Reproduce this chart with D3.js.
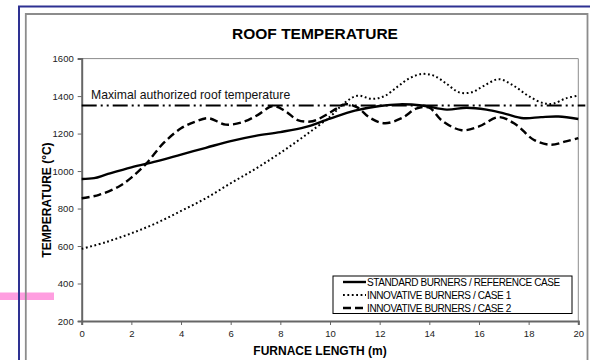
<!DOCTYPE html>
<html>
<head>
<meta charset="utf-8">
<script src="https://cdn.jsdelivr.net/npm/d3@7"></script>
<style>
  body { margin: 0; background: #fff; }
  svg { display: block; font-family: Arial, "Liberation Sans", sans-serif; }
  .tick text { fill: #222; font-size: 9.5px; }
  .legend text { font-size: 10px; letter-spacing: -0.4px; fill: #000; }
</style>
</head>
<body>
<div id="chart"></div>
<script>
// furnace length (m) and roof temperature (°C)
const standardPos  = [0, 0.5, 1, 2, 3, 4, 5, 6, 7, 8, 9, 10, 11, 12, 12.8, 13.7, 14.7, 15.5, 16.3, 17, 17.8, 18.5, 19.2, 20];
const standardTemp = [958, 962, 982, 1020, 1052, 1088, 1124, 1160, 1188, 1208, 1234, 1280, 1322, 1347, 1356, 1350, 1328, 1338, 1328, 1308, 1282, 1288, 1291, 1278];

const case1Pos  = [0, 1, 2, 3, 4, 5, 6, 7, 8, 9, 10, 10.6, 11.1, 11.7, 12.2, 12.7, 13.2, 13.7, 14.2, 14.7, 15.2, 15.7, 16.2, 16.8, 17.4, 18, 18.6, 19, 19.5, 20];
const case1Temp = [585, 622, 668, 722, 787, 855, 935, 1012, 1097, 1190, 1290, 1365, 1402, 1385, 1400, 1448, 1495, 1518, 1508, 1465, 1420, 1420, 1455, 1490, 1455, 1400, 1362, 1360, 1388, 1402];

const case2Pos  = [0, 0.7, 1.5, 2, 2.6, 3.3, 4, 4.6, 5.1, 5.8, 6.5, 7.1, 7.7, 8.2, 8.7, 9.3, 10, 10.6, 11.1, 11.6, 12.2, 12.9, 13.5, 14, 14.5, 15.3, 16, 16.8, 17.5, 18.2, 18.9, 19.5, 20];
const case2Temp = [855, 873, 918, 965, 1040, 1150, 1228, 1265, 1282, 1248, 1262, 1300, 1347, 1320, 1272, 1266, 1312, 1356, 1340, 1285, 1255, 1283, 1335, 1338, 1270, 1218, 1238, 1288, 1247, 1167, 1140, 1158, 1176];

const maxTemp = 1350;
const maxLabel = 'Maximal authorized roof temperature';

const seriesNames = ['STANDARD BURNERS / REFERENCE CASE', 'INNOVATIVE BURNERS / CASE 1', 'INNOVATIVE BURNERS / CASE 2'];
const xTicks = [0, 2, 4, 6, 8, 10, 12, 14, 16, 18, 20];
const yTicks = [200, 400, 600, 800, 1000, 1200, 1400, 1600];

const series = [
  { name: seriesNames[0], pts: standardPos.map((p, i) => [p, standardTemp[i]]), dash: null, w: 2.4 },
  { name: seriesNames[1], pts: case1Pos.map((p, i) => [p, case1Temp[i]]), dash: '1.8,2.6', w: 2 },
  { name: seriesNames[2], pts: case2Pos.map((p, i) => [p, case2Temp[i]]), dash: '8,4', w: 2.4 }
];

const W = 590, H = 360;
const svg = d3.select('#chart').append('svg').attr('width', W).attr('height', H);

// page decorations: pink marker, blue slide frame, grey chart frame
svg.append('rect').attr('x', 0).attr('y', 292.5).attr('width', 54).attr('height', 7.5).attr('fill', '#ff9ee0');
svg.append('path').attr('d', 'M19,362 V6.5 H592').attr('fill', 'none').attr('stroke', '#2e3192').attr('stroke-width', 2);
svg.append('path').attr('d', 'M25.8,362 V14 H587.5 V362').attr('fill', 'none').attr('stroke', '#8c8c8c').attr('stroke-width', 1.8);

const plotL = 81.7, plotR = 578.3, plotT = 58.6, plotB = 321;
const x = d3.scaleLinear().domain([0, 20]).range([plotL, plotR]);
const y = d3.scaleLinear().domain([200, 1600]).range([plotB, plotT]);

// plot area border (top/right)
svg.append('path').attr('d', `M${plotL},${plotT} H${plotR} V${plotB}`)
  .attr('fill', 'none').attr('stroke', '#8c8c8c').attr('stroke-width', 1);

const xAxis = svg.append('g').attr('transform', `translate(0,${plotB})`)
  .call(d3.axisBottom(x).tickValues(xTicks).tickFormat(d3.format('d')).tickSize(4).tickPadding(5));
const yAxis = svg.append('g').attr('transform', `translate(${plotL},0)`)
  .call(d3.axisLeft(y).tickValues(yTicks).tickFormat(d3.format('d')).tickSize(4).tickPadding(4));
[xAxis, yAxis].forEach(a => {
  a.select('.domain').attr('stroke', '#666').attr('stroke-width', 2);
  a.selectAll('.tick line').attr('stroke', '#666');
});

const line = d3.line().x(d => x(d[0])).y(d => y(d[1])).curve(d3.curveCatmullRom.alpha(0.5));

svg.selectAll('path.series').data(series).join('path')
  .attr('class', 'series')
  .attr('d', d => line(d.pts))
  .attr('fill', 'none')
  .attr('stroke', '#000')
  .attr('stroke-width', d => d.w)
  .attr('stroke-dasharray', d => d.dash);

// maximal authorized temperature
svg.append('line')
  .attr('x1', plotL).attr('x2', plotR + 7)
  .attr('y1', y(maxTemp)).attr('y2', y(maxTemp))
  .attr('stroke', '#000').attr('stroke-width', 2)
  .attr('stroke-dasharray', '15,4,2,4,2,4');
svg.append('text').attr('x', 91).attr('y', 99)
  .attr('font-size', 12.2).attr('fill', '#111').text(maxLabel);

// titles
svg.append('text').attr('x', 315).attr('y', 39).attr('text-anchor', 'middle')
  .attr('font-size', 15.5).attr('font-weight', 'bold').text('ROOF TEMPERATURE');
svg.append('text').attr('x', 320).attr('y', 355).attr('text-anchor', 'middle')
  .attr('font-size', 12).attr('font-weight', 'bold').text('FURNACE LENGTH (m)');
svg.append('text').attr('transform', 'translate(51,200) rotate(-90)').attr('text-anchor', 'middle')
  .attr('font-size', 12).attr('font-weight', 'bold').text('TEMPERATURE (°C)');

// legend
const lg = svg.append('g').attr('class', 'legend');
lg.append('rect').attr('x', 333).attr('y', 276).attr('width', 239).attr('height', 37.5)
  .attr('fill', '#fff').attr('stroke', '#000').attr('stroke-width', 1);
const rows = lg.selectAll('g.row').data(series).join('g')
  .attr('class', 'row')
  .attr('transform', (d, i) => `translate(0,${282 + i * 13})`);
rows.append('line').attr('x1', 343).attr('x2', 366).attr('y1', 0).attr('y2', 0)
  .attr('stroke', '#000').attr('stroke-width', d => d.w).attr('stroke-dasharray', d => d.dash);
rows.append('text').attr('x', 367).attr('y', 3.6).text(d => d.name);
</script>
</body>
</html>
